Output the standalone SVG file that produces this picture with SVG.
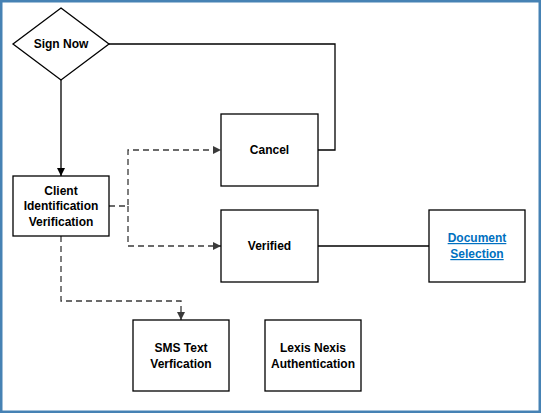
<svg xmlns="http://www.w3.org/2000/svg" width="541" height="413" viewBox="0 0 541 413">
<defs>
<style>
.box{fill:#fff;stroke:#000;stroke-width:1.3}
.t{font-family:"Liberation Sans",Arial,sans-serif;font-weight:bold;font-size:12px;fill:#000;text-anchor:middle}
.link{fill:#0070C0;text-decoration:underline}
.solid{fill:none;stroke:#000;stroke-width:1.3}
.dash{fill:none;stroke:#3a3a3a;stroke-width:1.3;stroke-dasharray:6 4}
</style>
<marker id="ab" viewBox="0 0 10 10" refX="10" refY="5" markerWidth="8" markerHeight="8" markerUnits="userSpaceOnUse" orient="auto">
<path d="M0,0 L10,5 L0,10 z" fill="#000"/>
</marker>
<marker id="ag" viewBox="0 0 10 10" refX="10" refY="5" markerWidth="8" markerHeight="8" markerUnits="userSpaceOnUse" orient="auto">
<path d="M0,0 L10,5 L0,10 z" fill="#3a3a3a"/>
</marker>
</defs>
<rect x="0" y="0" width="541" height="413" fill="#fff"/>
<rect x="1.25" y="1.25" width="538.5" height="410.5" fill="none" stroke="#4682B4" stroke-width="2.5"/>
<g id="connectors">
<polyline class="solid" points="109,44 335,44 335,150 318,150"/>
<line class="solid" x1="61" y1="80" x2="61" y2="176" marker-end="url(#ab)"/>
<line class="solid" x1="318" y1="246" x2="429" y2="246"/>
<polyline class="dash" points="109,206 128,206 128,150 221,150" marker-end="url(#ag)"/>
<polyline class="dash" points="128,206 128,246 221,246" marker-end="url(#ag)"/>
<polyline class="dash" points="61,236 61,301 181,301 181,320" marker-end="url(#ag)"/>
</g>
<g id="sign-now">
<polygon class="box" points="61,8 109,44 61,80 13,44"/>
<text class="t" x="61" y="48">Sign Now</text>
</g>
<g id="client-id">
<rect class="box" x="13" y="176" width="96" height="60"/>
<text class="t" x="61" y="194.5">Client</text>
<text class="t" x="61" y="210">Identification</text>
<text class="t" x="61" y="225.5">Verification</text>
</g>
<g id="cancel">
<rect class="box" x="221" y="114" width="97" height="72"/>
<text class="t" x="269.5" y="154">Cancel</text>
</g>
<g id="verified">
<rect class="box" x="221" y="210" width="97" height="72"/>
<text class="t" x="269.5" y="250">Verified</text>
</g>
<g id="document-selection">
<rect class="box" x="429" y="210" width="96" height="72"/>
<text class="t link" x="477" y="242">Document</text>
<text class="t link" x="477" y="258">Selection</text>
</g>
<g id="sms">
<rect class="box" x="133" y="320" width="96" height="71"/>
<text class="t" x="181" y="352">SMS Text</text>
<text class="t" x="181" y="368">Verfication</text>
</g>
<g id="lexis">
<rect class="box" x="265" y="320" width="96" height="71"/>
<text class="t" x="313" y="352">Lexis Nexis</text>
<text class="t" x="313" y="368">Authentication</text>
</g>
</svg>
